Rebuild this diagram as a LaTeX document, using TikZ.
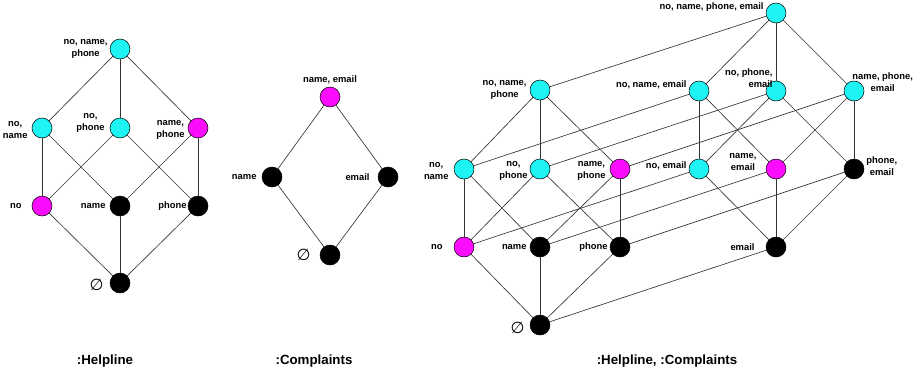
\documentclass[tikz,border=0pt]{standalone}
\usepackage{fontspec}
\setsansfont{Liberation Sans}
\newfontfamily\symfont{DejaVu Sans}
\usepackage{tikz}
\usepackage{xcolor}
\usetikzlibrary{positioning}
\definecolor{Aqua}{HTML}{1EF4F4}
\definecolor{Pink}{HTML}{FC0CFC}
\definecolor{Wire}{HTML}{333333}
\tikzset{
  setnode/.style={circle,draw=black,line width=0.5pt,minimum size=20pt,inner sep=0pt},
  cyannode/.style={setnode,fill=Aqua},
  magnode/.style={setnode,fill=Pink},
  blknode/.style={setnode,fill=black},
  lbl/.style={font=\sffamily\bfseries\fontsize{9.4}{12}\selectfont,align=center,inner sep=0pt},
  nul/.style={font=\symfont\fontsize{16}{16}\selectfont,inner sep=0pt},
  title/.style={font=\sffamily\bfseries\fontsize{13.3}{15}\selectfont,inner sep=0pt},
  wire/.style={draw=Wire,line width=0.65pt}
}

\begin{document}
\begin{tikzpicture}[x=1pt,y=-1pt]
  \useasboundingbox (0,0) rectangle (915,375);
  % :Helpline
  \node[cyannode,label={[lbl,label distance=2pt]left:no, name,\\phone}] (h-omp) at (120,49) {};
  \node[cyannode,label={[lbl,label distance=4pt,yshift=-2pt]left:no,\\name}] (h-om) at (42,128) {};
  \node[cyannode,label={[lbl,label distance=5pt,yshift=5pt]left:no,\\phone}] (h-op) at (120,128) {};
  \node[magnode,label={[lbl,label distance=3pt,yshift=-2pt]left:name,\\phone}] (h-mp) at (198,128) {};
  \node[magnode,label={[lbl,label distance=10pt]left:no}] (h-o) at (42,206) {};
  \node[blknode,label={[lbl,label distance=4pt]left:name}] (h-m) at (120,206) {};
  \node[blknode,label={[lbl,label distance=1pt]left:phone}] (h-p) at (198,206) {};
  \node[blknode,label={[nul,label distance=6pt,yshift=-2pt]left:∅}] (h-0) at (120,283) {};
  \foreach \a/\b in {h-omp/h-om,h-omp/h-op,h-omp/h-mp,h-om/h-o,h-om/h-m,h-op/h-o,
      h-op/h-p,h-mp/h-m,h-mp/h-p,h-o/h-0,h-m/h-0,h-p/h-0}
    \draw[wire] (\a) -- (\b);
  \node[title] (t-help) at (105,361) {:Helpline};

  % :Complaints
  \node[magnode,label={[lbl,label distance=3pt]above:name, email}] (c-me) at (330,97) {};
  \node[blknode,label={[lbl,label distance=5pt]left:name}] (c-m) at (272,177) {};
  \node[blknode,label={[lbl,label distance=8pt]left:email}] (c-e) at (388,177) {};
  \node[blknode,label={[nul,label distance=9pt]left:∅}] (c-0) at (330,255) {};
  \foreach \a/\b in {c-me/c-m,c-me/c-e,c-m/c-0,c-e/c-0}
    \draw[wire] (\a) -- (\b);
  \node[title] (t-comp) at (314,361) {:Complaints};

  % :Helpline, :Complaints -- front cube
  \node[cyannode,label={[lbl,label distance=3pt]left:no, name,\\phone}] (b-omp) at (540,90) {};
  \node[cyannode,label={[lbl,label distance=5pt,yshift=-2pt]left:no,\\name}] (b-om) at (464,169) {};
  \node[cyannode,label={[lbl,label distance=2pt,yshift=-2pt]left:no,\\phone}] (b-op) at (540,169) {};
  \node[magnode,label={[lbl,label distance=4pt,yshift=-2pt]left:name,\\phone}] (b-mp) at (620,169) {};
  \node[magnode,label={[lbl,label distance=11pt]left:no}] (b-o) at (464,247) {};
  \node[blknode,label={[lbl,label distance=3pt]left:name}] (b-m) at (540,247) {};
  \node[blknode,label={[lbl,label distance=2pt]left:phone}] (b-p) at (620,247) {};
  \node[blknode,label={[nul,label distance=5pt,yshift=-3pt]left:∅}] (b-0) at (540,325) {};
  % back cube
  \node[cyannode,label={[lbl,label distance=2pt,yshift=6pt]left:no, name, phone, email}] (b-ompe) at (776,13) {};
  \node[cyannode,label={[lbl,label distance=2pt,yshift=6pt]left:no, name, email}] (b-ome) at (699,91) {};
  \node[cyannode,label={[lbl,align=right,xshift=7pt,yshift=12.5pt]left:no, phone,\\email}] (b-ope) at (776,91) {};
  \node[cyannode,label={[lbl,xshift=-12pt,yshift=8.5pt]right:name, phone,\\email}] (b-mpe) at (854,91) {};
  \node[cyannode,label={[lbl,label distance=2pt,yshift=3pt]left:no, email}] (b-oe) at (699,169) {};
  \node[magnode,label={[lbl,label distance=9pt,yshift=7pt]left:name,\\email}] (b-me) at (776,169) {};
  \node[blknode,label={[lbl,label distance=2pt,yshift=2.5pt]right:phone,\\email}] (b-pe) at (854,169) {};
  \node[blknode,label={[lbl,label distance=11pt]left:email}] (b-e) at (776,247) {};
  \foreach \a/\b in {b-omp/b-om,b-omp/b-op,b-omp/b-mp,b-om/b-o,b-om/b-m,b-op/b-o,
      b-op/b-p,b-mp/b-m,b-mp/b-p,b-o/b-0,b-m/b-0,b-p/b-0,
      b-ompe/b-ome,b-ompe/b-ope,b-ompe/b-mpe,b-ome/b-oe,b-ome/b-me,b-ope/b-oe,
      b-ope/b-pe,b-mpe/b-me,b-mpe/b-pe,b-oe/b-e,b-me/b-e,b-pe/b-e,
      b-omp/b-ompe,b-om/b-ome,b-op/b-ope,b-mp/b-mpe,b-o/b-oe,b-m/b-me,b-p/b-pe,b-0/b-e}
    \draw[wire] (\a) -- (\b);
  \node[title] (t-both) at (667,361) {:Helpline, :Complaints};
\end{tikzpicture}
\end{document}
